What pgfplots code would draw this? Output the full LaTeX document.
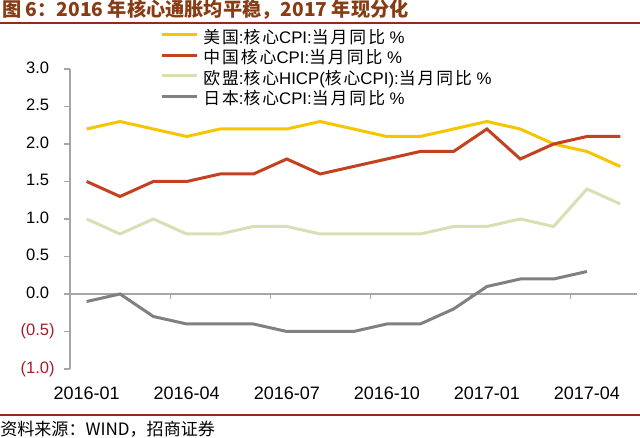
\documentclass[border=0pt]{standalone}
\usepackage{pgfplots}
\pgfplotsset{compat=1.18}
\usepackage{pgfplotstable}
\usepackage{fontspec}
\setmainfont{Liberation Sans}
\newfontfamily\cjk{Noto Sans CJK SC}
\newfontfamily\cjkl{Noto Sans CJK SC}[LetterSpace=12]
\definecolor{cUS}{RGB}{245,197,0}
\definecolor{cCN}{RGB}{195,65,30}
\definecolor{cEU}{RGB}{214,224,180}
\definecolor{cJP}{RGB}{128,128,128}
\definecolor{axisgray}{RGB}{166,166,166}
\definecolor{negred}{RGB}{165,30,45}
\definecolor{titlebrown}{RGB}{135,60,20}
\definecolor{rulered}{RGB}{150,40,30}

\pgfplotstableread{
x us cn eu
0 2.2 1.5 1.0
1 2.3 1.3 0.8
2 2.2 1.5 1.0
3 2.1 1.5 0.8
4 2.2 1.6 0.8
5 2.2 1.6 0.9
6 2.2 1.8 0.9
7 2.3 1.6 0.8
8 2.2 1.7 0.8
9 2.1 1.8 0.8
10 2.1 1.9 0.8
11 2.2 1.9 0.9
12 2.3 2.2 0.9
13 2.2 1.8 1.0
14 2.0 2.0 0.9
15 1.9 2.1 1.4
16 1.7 2.1 1.2
}\datamain

\pgfplotstableread{
x jp
0 -0.1
1 0.0
2 -0.3
3 -0.4
4 -0.4
5 -0.4
6 -0.5
7 -0.5
8 -0.5
9 -0.4
10 -0.4
11 -0.2
12 0.1
13 0.2
14 0.2
15 0.3
}\datajp

\begin{document}
\begin{tikzpicture}
\path[use as bounding box] (0,0) rectangle (480pt,328.5pt);
\node[anchor=west, inner sep=0pt, text=titlebrown] at (1.5pt,321pt)
  {\cjk\bfseries\fontsize{14.4pt}{16pt}\selectfont 图 6：2016 年核心通胀均平稳，2017 年现分化};
\draw[rulered, line width=1.1pt] (0,311.25pt) -- (480pt,311.25pt);
\draw[rulered, line width=0.9pt] (0,17.25pt) -- (480pt,17.25pt);
\node[anchor=west, inner sep=0pt] at (0,6.75pt)
  {\cjk\fontsize{12.8pt}{14pt}\selectfont 资料来源：WIND，招商证券};

\begin{axis}[
  at={(52.5pt,51.75pt)}, anchor=south west,
  scale only axis, width=425.25pt, height=225pt,
  xmin=-0.5, xmax=16.5, ymin=-1, ymax=3,
  axis x line=middle, axis y line=left,
  axis line style={-, draw=axisgray, line width=0.8pt},
  hide obscured x ticks=false, hide obscured y ticks=false,
  tick align=outside,
  tick style={draw=axisgray, line width=0.8pt},
  major tick length=4.5pt,
  minor tick length=3.75pt,
  xtick={0,3,6,9,12,15},
  xticklabels={2016-01,2016-04,2016-07,2016-10,2017-01,2017-04},
  minor xtick={2.5,5.5,8.5,11.5,14.5},
  major x tick style={draw=none},
  ytick={-1,-0.5,0,0.5,1,1.5,2,2.5,3},
  yticklabels={\textcolor{negred}{(1.0)},\textcolor{negred}{(0.5)},0.0\phantom{)},0.5\phantom{)},1.0\phantom{)},1.5\phantom{)},2.0\phantom{)},2.5\phantom{)},3.0\phantom{)}},
  xticklabel style={font=\fontsize{13.5pt}{15pt}\selectfont, yshift=-61.5pt},
  yticklabel style={font=\fontsize{12.4pt}{14pt}\selectfont, anchor=east, xshift=-3.5pt},
  clip=false,
  legend style={at={(axis description cs:0.1587,1.131)}, anchor=north west,
    draw=none, fill=none, inner sep=0pt, row sep=0pt, column sep=3.75pt,
    nodes={inner sep=0pt, text height=10pt, text depth=5.4pt, anchor=west},
    font=\fontsize{12.6pt}{13.5pt}\selectfont},
  legend cell align=left,
  legend image code/.code={\draw[#1] (0pt,4pt) -- (26.25pt,4pt);},
]
\addplot[cUS, line width=2.25pt] table[x=x,y=us] {\datamain};
\addlegendentry{{\cjkl 美国}:{\cjkl 核心}CPI:{\cjkl 当月同比} \%}
\addplot[cCN, line width=2.25pt] table[x=x,y=cn] {\datamain};
\addlegendentry{{\cjkl 中国核心}CPI:{\cjkl 当月同比} \%}
\addplot[cEU, line width=2.25pt] table[x=x,y=eu] {\datamain};
\addlegendentry{{\cjkl 欧盟}:{\cjkl 核心}HICP({\cjkl 核心}CPI):{\cjkl 当月同比} \%}
\addplot[cJP, line width=2.25pt] table[x=x,y=jp] {\datajp};
\addlegendentry{{\cjkl 日本}:{\cjkl 核心}CPI:{\cjkl 当月同比} \%}
\end{axis}
\end{tikzpicture}
\end{document}
